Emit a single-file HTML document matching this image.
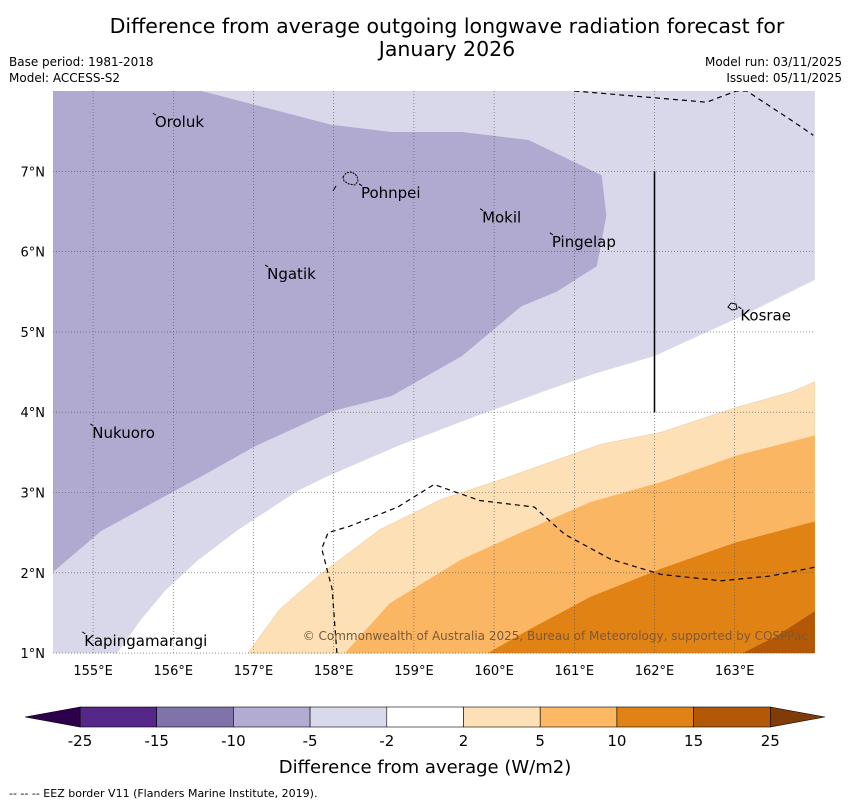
<!DOCTYPE html>
<html><head><meta charset="utf-8"><style>
body{margin:0;background:#fff;font-family:"Liberation Sans","DejaVu Sans",sans-serif}
svg{display:block}
</style></head><body>
<svg width="850" height="804" xmlns="http://www.w3.org/2000/svg" font-family="DejaVu Sans, Liberation Sans, sans-serif">
<text x="447" y="33" text-anchor="middle" font-size="20.5">Difference from average outgoing longwave radiation forecast for</text>
<text x="447" y="56" text-anchor="middle" font-size="20.5">January 2026</text>
<text x="9" y="66" font-size="12">Base period: 1981-2018</text>
<text x="9" y="82" font-size="12">Model: ACCESS-S2</text>
<text x="842" y="66" font-size="12" text-anchor="end">Model run: 03/11/2025</text>
<text x="842" y="82" font-size="12" text-anchor="end">Issued: 05/11/2025</text>
<defs><clipPath id="mc"><rect x="53" y="91" width="762" height="563"/></clipPath></defs>
<g id="map" clip-path="url(#mc)"></g>
<g id="axes"></g>
<g id="cbar"></g>
<text x="425" y="773" text-anchor="middle" font-size="18">Difference from average (W/m2)</text>
<text x="9" y="797" font-size="11">--  --  -- EEZ border V11 (Flanders Marine Institute, 2019).</text>
</svg>
<script>
const lonTicks=[155,156,157,158,159,160,161,162,163];
const latTicks=[1,2,3,4,5,6,7];
// contour polygons in [lon,lat]
const lavender=[[154.5,8],[164,8],[164,5.65],[163.7,5.5],[163.1,5.2],[162,4.7],[161.25,4.48],[160.65,4.27],[159.8,3.96],[158.8,3.58],[157.92,3.2],[157.55,3.02],[156.8,2.53],[156.3,2.15],[155.9,1.78],[155.6,1.42],[155.3,1],[154.5,1]];
const purple=[[154.5,8],[156.35,8],[157.97,7.58],[158.72,7.49],[159.6,7.49],[160.43,7.39],[161.34,6.95],[161.4,6.45],[161.28,5.82],[160.78,5.5],[160.34,5.32],[159.6,4.7],[158.72,4.2],[157.97,4.01],[157.03,3.58],[156.35,3.2],[155.1,2.52],[154.5,2.01]];
const orange1=[[156.93,1],[157.33,1.55],[157.83,1.98],[158.58,2.54],[159.33,2.91],[160.08,3.16],[160.96,3.47],[161.33,3.6],[162.08,3.75],[163.02,4.06],[163.7,4.25],[164,4.38],[164,1]];
const orange2=[[158.14,1],[158.7,1.62],[159.58,2.16],[160.33,2.5],[161.2,2.88],[162.08,3.13],[163.02,3.46],[164,3.71],[164,1]];
const orange3=[[159.92,1],[160.45,1.3],[161.2,1.7],[162.08,2.05],[163.02,2.38],[164,2.64],[164,1]];
const orange4=[[163.1,1],[163.5,1.2],[164,1.52],[164,1]];
const eezTop=[[161,8],[162.65,7.86],[163.02,8],[163.15,8],[163.7,7.64],[163.98,7.45]];
const eezBottom=[[158.04,1],[157.98,1.8],[157.85,2.3],[157.93,2.5],[158.2,2.58],[158.8,2.82],[159.25,3.1],[159.82,2.9],[160.5,2.82],[160.88,2.48],[161.45,2.17],[162.08,1.98],[162.83,1.9],[163.45,1.96],[164,2.07]];
const places=[["Oroluk",155.77,7.55],["Pohnpei",158.34,6.67],["Mokil",159.85,6.36],["Pingelap",160.72,6.06],["Ngatik",157.17,5.66],["Kosrae",163.07,5.14],["Nukuoro",154.99,3.68],["Kapingamarangi",154.89,1.09]];
const cbLabels=["-25","-15","-10","-5","-2","2","5","10","15","25"];
const cbColors=["#542788","#8073ac","#b2abd2","#d8daeb","#ffffff","#fee0b6","#fdb863","#e08214","#b35806"];
const NS="http://www.w3.org/2000/svg";
const X=lon=>53+(lon-154.5)*80.2, Y=lat=>91+(8-lat)*80.3;
function mk(t,a,p){const e=document.createElementNS(NS,t);for(const k in a)e.setAttribute(k,a[k]);p.appendChild(e);return e;}
const map=document.getElementById('map'),ax=document.getElementById('axes'),cb=document.getElementById('cbar');
const pts=a=>a.map(p=>X(p[0]).toFixed(1)+","+Y(p[1]).toFixed(1)).join(" ");
[[lavender,"#d8d8ea","contour-minus5"],[purple,"#b0aad1","contour-minus10"],[orange1,"#fde0b6","contour-2"],[orange2,"#fbb663","contour-5"],[orange3,"#e08214","contour-10"],[orange4,"#b35806","contour-15"]].forEach(([d,c,n])=>{
 const e=mk('polygon',{points:pts(d),fill:c,stroke:c==="#fde0b6"?"#e8c89a":"none","stroke-width":0.5},map);
 
 
});
lonTicks.forEach(v=>{const e=mk('line',{x1:X(v),x2:X(v),y1:91,y2:654,stroke:"#555","stroke-width":0.6,"stroke-dasharray":"1,2"},map);
 
 const t=mk('text',{x:X(v),y:675,"text-anchor":"middle","font-size":13},ax);t.textContent=v+"°E";
 });
latTicks.forEach(v=>{const e=mk('line',{x1:53,x2:815,y1:Y(v),y2:Y(v),stroke:"#555","stroke-width":0.6,"stroke-dasharray":"1,2"},map);
 
 const t=mk('text',{x:45,y:Y(v)+5,"text-anchor":"end","font-size":13},ax);t.textContent=v+"°N";
 });
[eezTop,eezBottom].forEach(d=>{const e=mk('polyline',{points:pts(d),fill:"none",stroke:"#000","stroke-width":1.2,"stroke-dasharray":"5,4"},map);
 });
let vl=mk('line',{x1:X(162),x2:X(162),y1:Y(7),y2:Y(4),stroke:"#000","stroke-width":1.5},map);

let pb=mk('path',{d:"M343,177 l3,-4 l6,-1 l5,4 l1,5 l-3,4 l-6,-1 l-5,-3z",fill:"none",stroke:"#000","stroke-width":1,"stroke-dasharray":"2,1"},map);

let pd=mk('line',{x1:333,y1:191,x2:336,y2:186,stroke:"#000","stroke-width":1},map);

let kb=mk('path',{d:"M728,307 l3,-4 l5,1 l1,5 l-5,1z",fill:"none",stroke:"#000","stroke-width":1},map);

places.forEach(p=>{const t=mk('text',{x:X(p[1]),y:Y(p[2]),"font-size":15},map);t.textContent=p[0];
 
 const m=mk('line',{x1:X(p[1])-2,y1:Y(p[2])-14,x2:X(p[1])+1,y2:Y(p[2])-12,stroke:"#000","stroke-width":1},map);
 });
let cp=mk('text',{x:808,y:640,"text-anchor":"end","font-size":12,fill:"#7a5a3a"},map);cp.textContent="© Commonwealth of Australia 2025, Bureau of Meteorology, supported by COSPPac";

// colorbar
const cx0=80,cw=76.7,cy=707,ch=20;
cbColors.forEach((c,i)=>{const r=mk('rect',{x:cx0+i*cw,y:cy,width:cw,height:ch,fill:c,stroke:"#000","stroke-width":0.6},cb);
 });
let la=mk('polygon',{points:`${cx0},${cy} 25,${cy+ch/2} ${cx0},${cy+ch}`,fill:"#2d004b",stroke:"#000","stroke-width":0.6},cb);

let ra=mk('polygon',{points:`${cx0+9*cw},${cy} 825,${cy+ch/2} ${cx0+9*cw},${cy+ch}`,fill:"#7f3b08",stroke:"#000","stroke-width":0.6},cb);

cbLabels.forEach((l,i)=>{const t=mk('text',{x:cx0+i*cw,y:746,"text-anchor":"middle","font-size":15},cb);t.textContent=l;
 });
</script>
</body></html>
